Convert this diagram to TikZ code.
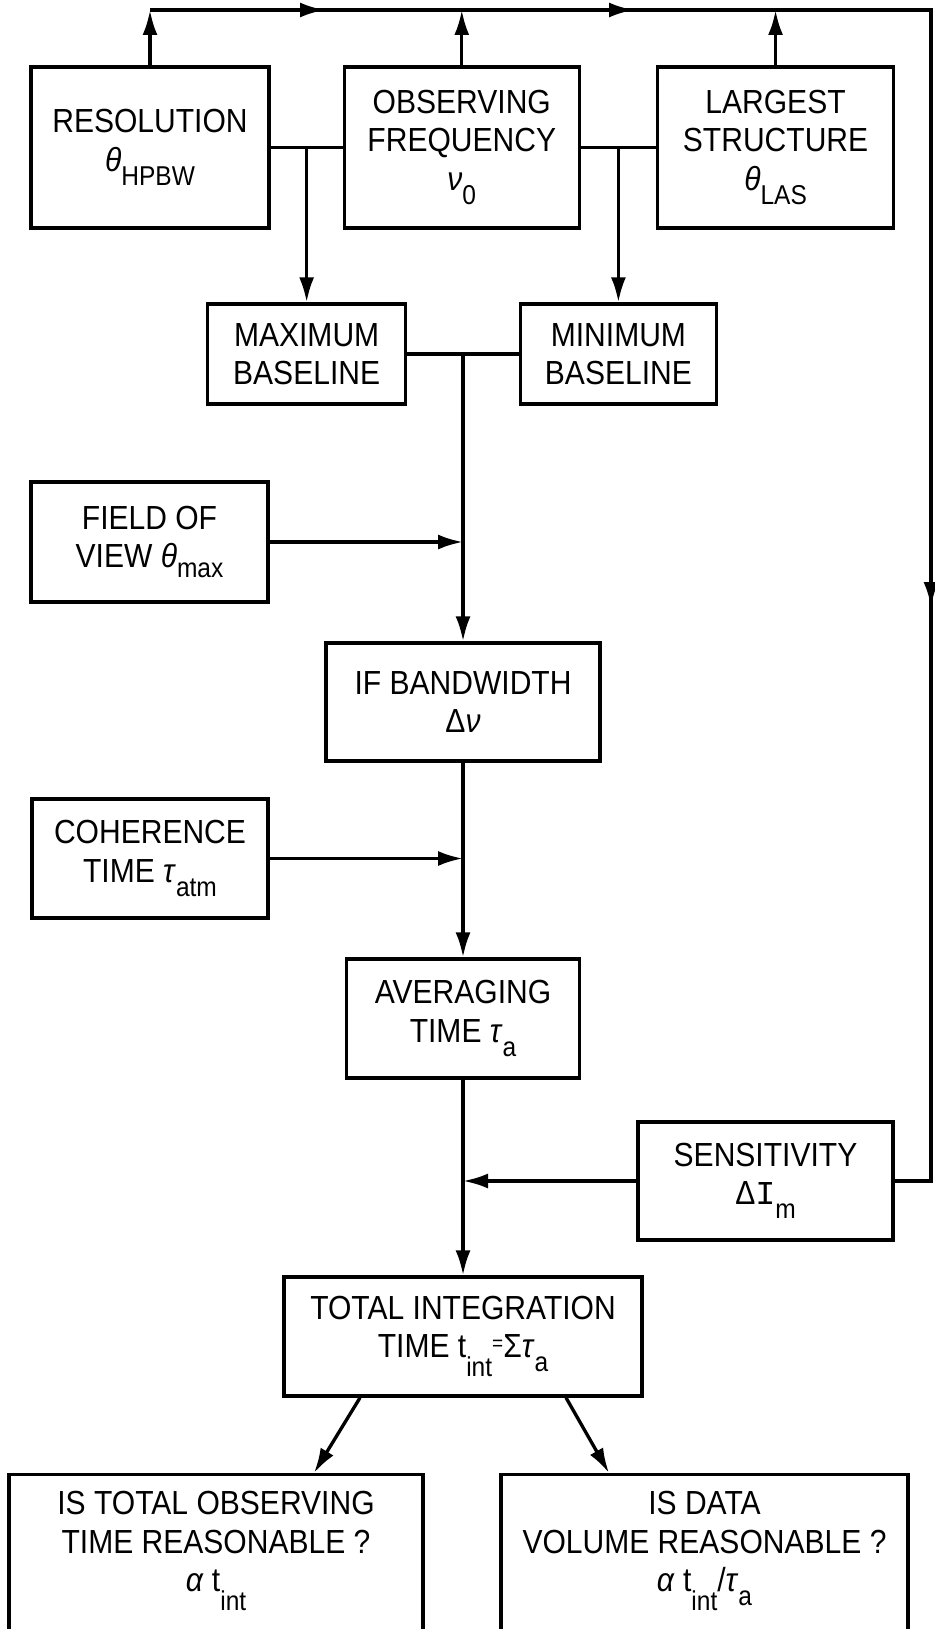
\documentclass[tikz,border=0pt]{standalone}
\usepackage{fontspec}
\setmainfont{Liberation Sans}[FakeStretch=0.9]
\setmonofont{Liberation Mono}
\usetikzlibrary{arrows.meta, positioning, calc}

\newcommand{\sbs}[2][-0.8ex]{\raisebox{#1}{\fontsize{15.5}{15.5}\selectfont #2}}
\newcommand{\gk}[1]{\textit{#1}}

\begin{document}
\begin{tikzpicture}[x=0.02cm, y=-0.02cm, line width=1.9pt, >={Latex[length=0.5cm, width=0.3cm]}]

        % --- styles ---
        \tikzstyle{block} = [rectangle, draw=black, line width=1.9pt, align=center, inner sep=0pt, font=\fontsize{19}{21.8}\selectfont]
        \tikzstyle{question} = [block, anchor=north, inner ysep=0.34cm, text depth=3cm]
        \tikzstyle{arrow} = [->]

        \useasboundingbox (0,0) rectangle (934,1629);

        % --- nodes ---

        % 1. Input row
        \node (res) [block, minimum width=4.76cm, minimum height=3.22cm] at (150,147.5) {RESOLUTION\\\gk{θ}\sbs{HPBW}};
        \node (obs) [block, minimum width=4.70cm, minimum height=3.22cm, right=1.44cm of res] {OBSERVING\\FREQUENCY\\\gk{ν}\sbs{0}};
        \node (las) [block, minimum width=4.72cm, minimum height=3.22cm, right=1.50cm of obs] {LARGEST\\STRUCTURE\\\gk{θ}\sbs{LAS}};
        \coordinate (j1) at ($(res.east)!0.5!(obs.west)$);
        \coordinate (j2) at ($(obs.east)!0.5!(las.west)$);

        % 2. Baselines
        \node (maxb) [block, minimum width=3.96cm, minimum height=2cm] at (j1 |- 0,354) {MAXIMUM\\BASELINE};
        \node (minb) [block, minimum width=3.92cm, minimum height=2cm] at (j2 |- 0,354) {MINIMUM\\BASELINE};
        \coordinate (j3) at ($(maxb.east)!0.5!(minb.west)$);

        % 3. Main chain
        \node (ifbw) [block, minimum width=5.48cm, minimum height=2.36cm] at (j3 |- 0,702) {IF BANDWIDTH\\Δ\gk{ν}};
        \node (avg) [block, minimum width=4.66cm, minimum height=2.38cm] at (j3 |- 0,1018.5) {AVERAGING\\TIME \gk{τ}\sbs{a}};
        \node (total) [block, minimum width=7.16cm, minimum height=2.38cm] at (j3 |- 0,1336.5) {TOTAL INTEGRATION\\TIME t\sbs[-1.1ex]{int}\raisebox{0.4ex}{\fontsize{12}{12}\selectfont =}Σ\gk{τ}\sbs{a}};

        % 4. Side inputs
        \node (fov) [block, minimum width=4.74cm, minimum height=2.40cm] at (149.5,542) {FIELD OF\\VIEW \gk{θ}\sbs[-0.6ex]{max}};
        \node (coh) [block, minimum width=4.72cm, minimum height=2.38cm] at (150,858.5) {COHERENCE\\TIME \gk{τ}\sbs{atm}};
        \node (sens) [block, minimum width=5.10cm, minimum height=2.36cm] at (765.5,1181) {SENSITIVITY\\Δ\texttt{I}\sbs{m}};

        % 5. Questions
        \node (qtime) [question, minimum width=8.28cm] at (216,1473) {IS TOTAL OBSERVING\\TIME REASONABLE ?\\\gk{α} t\sbs[-1.1ex]{int}};
        \node (qdata) [question, minimum width=8.14cm] at (704.5,1473) {IS DATA\\VOLUME REASONABLE ?\\\gk{α} t\sbs[-1.1ex]{int}/\gk{τ}\sbs{a}};

        % --- connectors ---
        \coordinate (bus) at (0,10);
        \coordinate (bt1) at (325,10);
        \coordinate (bt2) at (634,10);
        \coordinate (bcorner) at (931,10);
        \coordinate (bt3) at (931,607);

        \draw[arrow] (res.north) -- (res.north |- bus);
        \draw[arrow] (obs.north) -- (obs.north |- bus);
        \draw[arrow] (las.north) -- (las.north |- bus);
        \draw (res.north |- bus) -- (bcorner) -- (bcorner |- sens.east) -- (sens.east);
        \draw[arrow] (res.north |- bus) -- (bt1);
        \draw[arrow] (bt1) -- (bt2);
        \draw[arrow] (bcorner) -- (bt3);

        \draw (res.east) -- (obs.west);
        \draw (obs.east) -- (las.west);
        \draw[arrow] (j1) -- (maxb.north);
        \draw[arrow] (j2) -- (minb.north);
        \draw (maxb.east) -- (minb.west);
        \draw[arrow] (j3) -- (ifbw.north);
        \draw[arrow] (fov.east) -- (fov.east -| j3);
        \draw[arrow] (ifbw.south) -- (avg.north);
        \draw[arrow] (coh.east) -- (coh.east -| j3);
        \draw[arrow] (avg.south) -- (total.north);
        \draw[arrow] (sens.west) -- (sens.west -| j3);

        \draw[arrow] ([xshift=-2.06cm]total.south) -- ([xshift=1.96cm]qtime.north);
        \draw[arrow] ([xshift=2.06cm]total.south) -- ([xshift=-1.91cm]qdata.north);

\end{tikzpicture}
\end{document}
